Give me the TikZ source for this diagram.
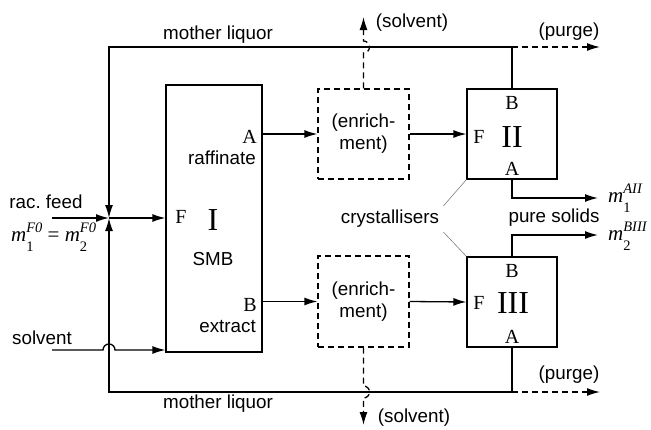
\documentclass[tikz,border=0pt]{standalone}
\usepackage{fontspec}
\setmainfont{Liberation Serif}
\setsansfont{Liberation Sans}
\usetikzlibrary{arrows.meta}

\newcommand{\subsize}{\fontsize{14.5}{15}\selectfont}
\newcommand{\mflow}[2]{\textit{m}\rlap{\raisebox{-0.5em}{\subsize #1}}\raisebox{0.4em}{\subsize\itshape #2}}

\tikzset{
    unitbox/.style={draw, line width=1.3pt, inner sep=0pt},
    enrbox/.style={unitbox, dash pattern=on 6pt off 4pt, align=center,
        font=\sffamily\fontsize{18.8}{22}\selectfont},
    flow/.style={line width=1.3pt, -{Latex[length=13pt,width=8pt]}},
    purgeflow/.style={flow, dash pattern=on 6pt off 4pt},
    txt/.style={font=\sffamily\fontsize{18.8}{22}\selectfont, inner sep=1pt},
    port/.style={font=\fontsize{20}{22}\selectfont, inner sep=0pt},
    numeral/.style={font=\fontsize{32}{34}\selectfont, inner sep=0pt},
    mlabel/.style={font=\fontsize{21}{24}\selectfont, inner sep=0pt},
    pointer/.style={draw=gray, line width=0.6pt}
}

\begin{document}
\begin{tikzpicture}[x=1pt,y=-1pt]
        \useasboundingbox (0,0) rectangle (651,429);

        % Units
        \node[unitbox, minimum width=96pt, minimum height=267pt] (smb) at (214,218.5) {};
        \node[enrbox, minimum width=91pt, minimum height=90pt] (enrA) at (363.5,134) {(enrich-\\ment)};
        \node[enrbox, minimum width=91pt, minimum height=91pt] (enrB) at (363.5,301.5) {(enrich-\\ment)};
        \node[unitbox, minimum width=90pt, minimum height=90pt] (crysII) at (512,134) {};
        \node[unitbox, minimum width=90pt, minimum height=90pt] (crysIII) at (512,302) {};

        % Labels inside the units
        \node[port] (smbF) at (181,217) {F};
        \node[numeral] (smbN) at (213,220) {I};
        \node[txt] (smbName) at (213,259) {SMB};
        \node[port, anchor=east] (smbA) at (257,137) {A};
        \node[txt, anchor=east] (raff) at (257,158) {raffinate};
        \node[port, anchor=east] (smbB) at (257,305) {B};
        \node[txt, anchor=east] (extr) at (257,327) {extract};

        \node[port] (IIB) at (512,103) {B};
        \node[port] (IIF) at (479,137) {F};
        \node[numeral] (IIN) at (512,137) {II};
        \node[port] (IIA) at (512,169) {A};
        \node[port] (IIIB) at (512,271) {B};
        \node[port] (IIIF) at (479,303) {F};
        \node[numeral] (IIIN) at (513,303) {III};
        \node[port] (IIIA) at (512,337) {A};

        % Points on the lines
        \coordinate (feedIn) at (52,218);
        \coordinate (junc) at (109,218);
        \coordinate (mlTop) at (109,47);
        \coordinate (mlBot) at (109,392);
        \coordinate (solvIn) at (52,350);
        \coordinate (hopL) at (103,350);
        \coordinate (purgeTop) at (600,47);
        \coordinate (purgeBot) at (600,392);
        \coordinate (hopTop) at (363.5,53);
        \coordinate (hopBot) at (363.5,386);
        \coordinate (solvTop) at (363.5,17);
        \coordinate (solvBot) at (363.5,425);
        \coordinate (outA) at (598,198);
        \coordinate (outB) at (598,235);

        % Feed, solvent and recycle
        \draw[flow] (feedIn) -- (junc);
        \draw[flow] (junc) -- (junc -| smb.west);
        \draw[flow] (solvIn) -- (hopL) arc[start angle=180, end angle=360, radius=6] -- (solvIn -| smb.west);
        \draw[flow] (crysII.north) |- (mlTop) -- (junc);
        \draw[flow] (crysIII.south) |- (mlBot) -- (junc);
        \draw[purgeflow] (crysII.north |- mlTop) -- (purgeTop);
        \draw[purgeflow] (crysIII.south |- mlBot) -- (purgeBot);

        % Streams through enrichment
        \draw[flow] (smb.east |- enrA) -- (enrA.west);
        \draw[flow] (enrA.east) -- (crysII.west);
        \draw[flow] (smb.east |- enrB) -- (enrB.west);
        \draw[flow] (enrB.east) -- (crysIII.west);
        \draw[purgeflow] (enrA.north) -- (hopTop) arc[start angle=90, end angle=-90, radius=6] -- (solvTop);
        \draw[purgeflow] (enrB.south) -- (hopBot) arc[start angle=270, end angle=450, radius=6] -- (solvBot);

        % Products
        \draw[flow] (crysII.south) |- (outA);
        \draw[flow] (crysIII.north) |- (outB);

        % Texts
        \node[txt] (mlTopLbl) at (218,35) {mother liquor};
        \node[txt] (mlBotLbl) at (218,404) {mother liquor};
        \node[txt] (purgeTopLbl) at (569,32) {(purge)};
        \node[txt] (purgeBotLbl) at (569,375) {(purge)};
        \node[txt] (solvTopLbl) at (412,23) {(solvent)};
        \node[txt] (solvBotLbl) at (414,418) {(solvent)};
        \node[txt] (feedLbl) at (46,202) {rac.\ feed};
        \node[mlabel, anchor=base west] (feedEq) at (11,241) {\mflow{1}{F0} = \mflow{2}{F0}};
        \node[txt] (solvLbl) at (42,338) {solvent};
        \node[txt] (pureLbl) at (554,218) {pure solids};
        \node[mlabel, anchor=base west] (mA) at (608,202) {\mflow{1}{AII}};
        \node[mlabel, anchor=base west] (mB) at (608,240) {\mflow{2}{BIII}};
        \node[txt, inner sep=4pt] (cryst) at (390,219) {crystallisers};
        \draw[pointer] (cryst.north east) -- (crysII.south west);
        \draw[pointer] (cryst.south east) -- (crysIII.north west);

    \end{tikzpicture}
\end{document}
